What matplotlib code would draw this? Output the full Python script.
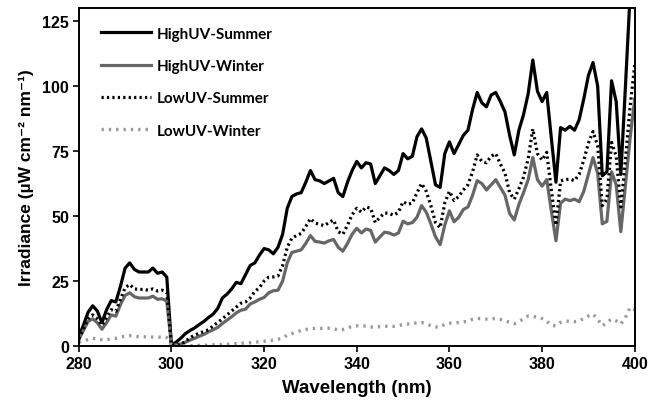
import matplotlib
matplotlib.use("Agg")
import matplotlib.pyplot as plt
import numpy as np

wavelength = list(range(280, 401))

high_uv_summer = [
    3.5, 8, 13, 15.5, 13.5, 9, 14, 17.5, 17, 23,
    30, 32, 29.5, 28.5, 28.5, 28.5, 30, 28, 28.5, 26.5,
    0.5, 1.5, 3, 4.8, 6, 7, 8.3, 9.5, 11, 12.3,
    14.5, 18.5, 20, 22, 24.5, 24, 27.5, 31, 32, 35,
    37.5, 37, 35.5, 38, 43, 53, 57.5, 58.5, 59, 63,
    67.5, 64, 63.5, 62.5, 63.5, 64.5, 59, 57.5, 63, 67.5,
    71, 68.5, 70.5, 70, 62.5, 65.5, 68.5, 67.5, 66, 67.5,
    74, 72, 73, 80.5, 83.5, 80, 71, 62, 61, 74,
    78.5, 74, 77.5, 81, 83, 91, 97.5, 93.5, 92, 96.5,
    97.5, 94, 90, 81, 73.5, 83, 89, 97, 110, 98,
    94, 97.5, 80, 63, 84, 83, 84.5, 83, 87, 95,
    104, 109, 100, 65.5, 67, 102, 94, 66, 100, 135,
    165,
]

high_uv_winter = [
    2.5, 6, 9.5, 10.5, 9, 6.5, 9, 12, 11.5, 16,
    19.5, 20.5, 19, 18.5, 18.5, 18.5, 19.2, 18, 18.2, 17.3,
    0.3, 0.5, 0.8, 1.5, 2.3, 3, 3.8, 4.5, 5.5, 6.3,
    7.2, 8.7, 10, 11.3, 12.8, 13.8, 14.2, 16.2, 17, 18,
    18.7, 20.5, 21.3, 21.5, 25, 32, 36, 36.5, 37, 39.5,
    42.5, 40.3, 40, 39.6, 40.5, 41, 38, 36.5, 39.5, 43,
    45.3, 43.5, 45, 44.5, 40, 42, 43.8, 43.5, 42.7, 43.5,
    48, 47, 47.5, 49.5, 54, 51.5, 47, 42, 39, 46.5,
    52, 47.8, 49.5, 52.5, 53.5, 58, 63.6, 62.5, 60, 62,
    64, 61, 58, 51, 48.5, 54.5, 59, 64, 72.5, 64,
    61.5, 64, 52, 40.5, 55, 56.5, 55.9, 56.5, 55.5, 59.5,
    66, 72.5, 66.5, 47, 48, 67, 62, 44, 62, 80,
    95,
]

low_uv_summer = [
    2.8, 6.5, 10.5, 12, 10.5, 8, 11, 14, 13.4, 18,
    22.5, 23.7, 22, 21.8, 21.8, 21.5, 22, 21.2, 21.5, 20.7,
    0.3, 0.4, 0.6, 1.8, 3.2, 4.2, 5, 5.6, 6.3, 7.8,
    9.1, 10.5, 12, 13.5, 15, 16.5, 17, 18.5, 21, 22.5,
    25, 26.5, 26.6, 27, 31, 38, 41.5, 42.5, 43.3, 46,
    49, 47.3, 46.8, 46.3, 47.5, 48.5, 44, 43, 46.5, 50.5,
    53, 51.5, 53.5, 53, 47.5, 49.5, 51.2, 51, 50.3, 51.5,
    55.5, 54.5, 55, 59, 62.5, 59.5, 54, 47.5, 45.5, 55,
    59.5, 56, 57.5, 60, 62, 67, 73.5, 71, 70.5, 73,
    74, 70, 66.5, 59, 56.5, 60.5, 65, 72, 83.5, 74,
    71.5, 74.5, 60, 46.5, 63.5, 64, 64.2, 63.6, 66, 71.5,
    78, 82.5, 77, 54, 56.5, 78.3, 73, 53.5, 72, 92,
    108,
]

low_uv_winter = [
    1.5, 2, 2.5, 3, 2.8, 2.5, 2.5, 2.8, 3, 3.5,
    3.8, 4, 3.8, 3.6, 3.6, 3.5, 3.5, 3.4, 3.5, 3.3,
    0.2, 0.1, 0.1, 0.1, 0.2, 0.2, 0.3, 0.3, 0.4, 0.5,
    0.5, 0.6, 0.7, 0.8, 1, 1.1, 1.2, 1.3, 1.5, 1.7,
    1.9, 2.1, 2.3, 2.6, 3.2, 4.2, 4.8, 5.4, 6, 6.4,
    6.7, 6.8, 6.8, 6.8, 6.9, 6.7, 6.2, 6.4, 7, 7.6,
    7.8, 7.8, 7.7, 7.4, 7.2, 7.5, 7.6, 7.7, 7.6, 7.9,
    8.3, 8.5, 8.6, 9, 9.1, 8.6, 7.8, 7.4, 7.3, 8.4,
    8.8, 8.8, 9.1, 9.3, 9.6, 10.3, 10.6, 10.6, 10.4, 10.5,
    10.6, 10.3, 9.8, 9.1, 8.6, 9.4, 10.5, 11.6, 11.5, 11,
    10.6, 9.6, 8, 7.8, 9.1, 9.5, 9.7, 9.4, 9.7, 10.6,
    11.6, 12.3, 10.4, 7.8, 9.1, 10.4, 9.7, 8.5, 11, 14.9,
    14,
]

series_labels = ["HighUV-Summer", "HighUV-Winter", "LowUV-Summer", "LowUV-Winter"]
x_ticks = [280, 300, 320, 340, 360, 380, 400]
y_ticks = [0, 25, 50, 75, 100, 125]

fam = ["Liberation Sans", "DejaVu Sans"]
plt.rcParams["font.family"] = fam

fig = plt.figure(figsize=(6.51, 4.06), dpi=100)
ax = fig.add_axes([0.121, 0.145, 0.854, 0.833])

ax.plot(wavelength, high_uv_summer, color="black", lw=2.3, label=series_labels[0])
ax.plot(wavelength, high_uv_winter, color="#666666", lw=2.3, label=series_labels[1])
ax.plot(wavelength, low_uv_summer, color="black", lw=2.3, linestyle=(0, (0.7, 1.0)),
        label=series_labels[2])
ax.plot(wavelength, low_uv_winter, color="#999999", lw=2.4, linestyle=(0, (0.7, 1.5)),
        label=series_labels[3])

ax.set_xlim(280, 400)
ax.set_ylim(0, 130)
ax.set_xticks(x_ticks)
ax.set_yticks(y_ticks)
ax.tick_params(axis="both", direction="out", length=4, width=1.2, labelsize=11.5, pad=3)
for lab in ax.get_xticklabels() + ax.get_yticklabels():
    lab.set_fontweight("bold")
for sp in ax.spines.values():
    sp.set_linewidth(1.4)

ax.set_xlabel("Wavelength (nm)", fontsize=13.5, fontweight="bold", labelpad=6)
ax.set_ylabel("Irradiance (\u00b5W cm\u207b\u00b2 nm\u207b\u00b9)", fontsize=12.5,
              fontweight="bold", labelpad=6)

leg = ax.legend(loc="upper left", frameon=False, handlelength=3.3, handletextpad=0.35,
                labelspacing=1.2, bbox_to_anchor=(0.015, 0.985),
                prop={"family": ["Lato", "Liberation Sans"], "weight": "bold", "size": 11})

fig.savefig("out.png", dpi=100)
